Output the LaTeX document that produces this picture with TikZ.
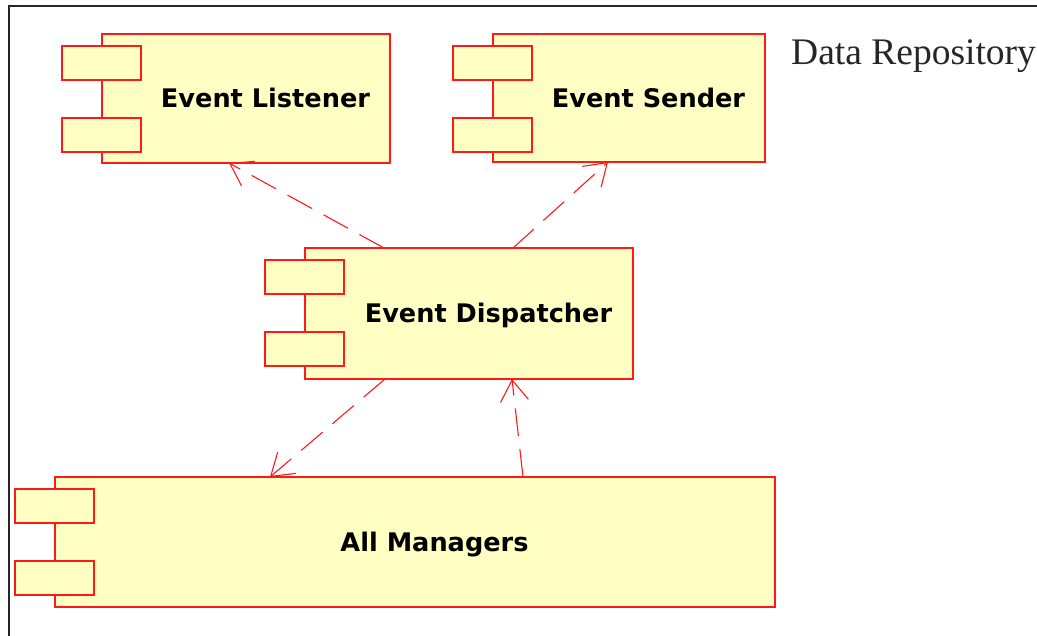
\documentclass[tikz,border=0pt]{standalone}
\usepackage{fontspec}
\setmainfont{Liberation Serif}
\newfontfamily\compfont{DejaVu Sans}
\usetikzlibrary{arrows.meta,calc}
\definecolor{compfill}{HTML}{FFFFC4}
\definecolor{compline}{HTML}{FF1A1A}
\tikzset{
  body/.style={draw=compline, fill=compfill, line width=1.4pt, inner sep=0pt,
    outer sep=0pt, anchor=north west},
  port/.style={body, minimum width=79pt, minimum height=34pt},
  title/.style={font=\compfont\bfseries\fontsize{25.6}{30}\selectfont,
    text height=18.7pt, text depth=0pt, inner sep=0pt},
  depends/.style={draw=compline, line width=1.1pt, dash pattern=on 28pt off 13pt,
    -{Straight Barb[length=21pt,width=28pt,line width=1.1pt]}}
}
% UML component: name, left, top, right, bottom, label
\newcommand\umlcomponent[6]{%
  \node[body, minimum width=#4-#2, minimum height=#5-#3] (#1) at (#2,#3) {};
  \node[port] (#1-p1) at (#2-40,#3+12) {};
  \node[port] (#1-p2) at (#2-40,#3+84) {};
  \node[title] (#1-label) at ($(#1-p1.east |- #1.center)!0.5!(#1.east)$) {#6};
}
\begin{document}
\begin{tikzpicture}[x=1pt,y=-1pt]
  \useasboundingbox (0,0) rectangle (1037,636);
  % frame
  \draw[line width=2pt, black!85] (9,640) -- (9,6) -- (1040,6);

  \umlcomponent{lst}{102}{34}{390}{163}{Event Listener}
  \umlcomponent{snd}{493}{34}{765}{162}{Event Sender}
  \umlcomponent{disp}{305}{248}{633}{379}{Event Dispatcher}
  \umlcomponent{mgr}{55}{477}{775}{607}{All Managers}

  \node[font=\fontsize{37.5}{44}\selectfont, anchor=base west, inner sep=0pt,
    text=black!85] (repo) at (791,65) {Data Repository};

  % dependencies
  \draw[depends] ([xshift=79pt]disp.north west) -- ([xshift=127pt]lst.south west);
  \draw[depends] ([xshift=208pt]disp.north west) -- ([xshift=115pt]snd.south west);
  \draw[depends] ([xshift=80pt]disp.south west) -- ([xshift=215pt]mgr.north west);
  \draw[depends] ([xshift=468pt]mgr.north west) -- ([xshift=207pt]disp.south west);
\end{tikzpicture}
\end{document}
